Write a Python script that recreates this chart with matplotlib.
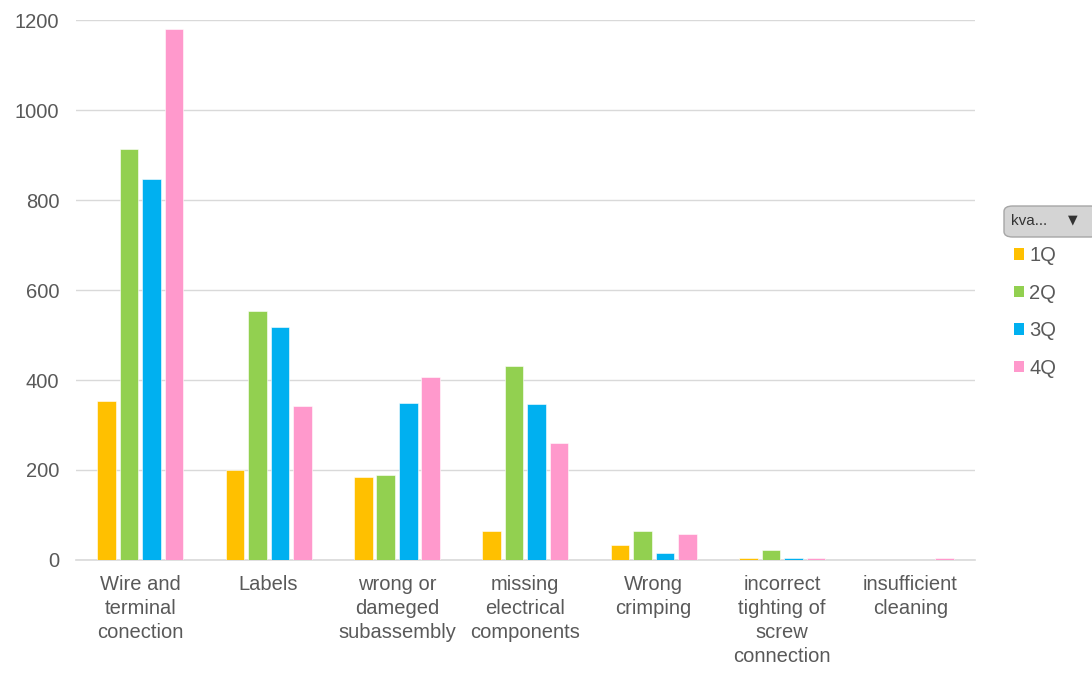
import matplotlib
matplotlib.use("Agg")
import matplotlib.pyplot as plt
import numpy as np
from matplotlib.patches import FancyBboxPatch, Patch

plt.rcParams["font.family"] = ["Liberation Sans", "DejaVu Sans"]

categories = [
    "Wire and\nterminal\nconection",
    "Labels",
    "wrong or\ndameged\nsubassembly",
    "missing\nelectrical\ncomponents",
    "Wrong\ncrimping",
    "incorrect\ntighting of\nscrew\nconnection",
    "insufficient\ncleaning",
]
series_names = ["1Q", "2Q", "3Q", "4Q"]
q1 = [353, 200, 184, 64, 33, 5, 0]
q2 = [913, 553, 189, 431, 64, 22, 0]
q3 = [847, 518, 349, 347, 16, 5, 0]
q4 = [1180, 342, 407, 260, 58, 5, 5]
colors = ["#FFC000", "#92D050", "#00B0F0", "#FF99CC"]

text_color = "#595959"
grid_color = "#D9D9D9"

fig = plt.figure(figsize=(10.92, 6.73), dpi=100)
ax = fig.add_axes([0.0696, 0.168, 0.823, 0.802])

x = np.arange(len(categories))
slot = 0.175
bar_w = 0.145
for i, (vals, c, name) in enumerate(zip([q1, q2, q3, q4], colors, series_names)):
    ax.bar(x + (i - 1.5) * slot, vals, width=bar_w, color=c, edgecolor="white",
           linewidth=0.4, label=name, zorder=3)

ax.set_xlim(-0.5, len(categories) - 0.5)
ax.set_ylim(0, 1200)
ax.set_yticks(range(0, 1201, 200))
ax.yaxis.grid(True, color=grid_color, linewidth=1, zorder=0)
ax.set_axisbelow(True)
for s in ["top", "right", "left"]:
    ax.spines[s].set_visible(False)
ax.spines["bottom"].set_color(grid_color)
ax.spines["bottom"].set_linewidth(1.2)
ax.tick_params(axis="both", length=0, labelsize=14.5, labelcolor=text_color)
ax.tick_params(axis="y", pad=12)
ax.tick_params(axis="x", pad=11)
ax.set_xticks(x)
ax.set_xticklabels(categories, linespacing=1.32)

# filter button
btn = FancyBboxPatch((1004 / 1092, 1 - 237 / 673), 95 / 1092, 31 / 673,
                     boxstyle="round,pad=0,rounding_size=0.008",
                     transform=fig.transFigure, facecolor="#D4D4D4",
                     edgecolor="#A6A6A6", linewidth=1, clip_on=False)
fig.patches.append(btn)
fig.text(1011 / 1092, 1 - 221 / 673, "kva...", fontsize=11, color="#333333",
         va="center", ha="left")
fig.text(1073 / 1092, 1 - 220 / 673, "\u25BC", fontsize=9, color="#333333",
         va="center", ha="center", family="DejaVu Sans")

handles = [Patch(facecolor=c, edgecolor="none") for c in colors]
fig.legend(handles, series_names, loc="upper left",
           bbox_to_anchor=(1014 / 1092, 1 - 246 / 673), frameon=False,
           fontsize=14.5, labelcolor=text_color, handlelength=0.5,
           handleheight=0.5, handletextpad=0.25, labelspacing=0.92,
           borderpad=0, borderaxespad=0)

fig.savefig("out.png", dpi=100)
